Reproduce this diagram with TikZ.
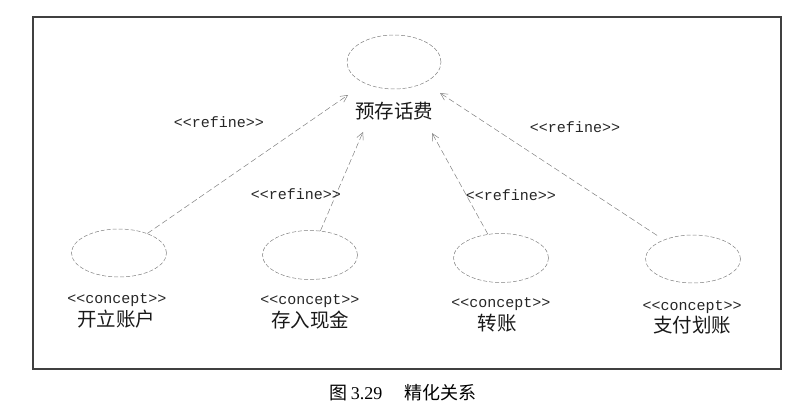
\documentclass[tikz,border=0pt]{standalone}
\usepackage{fontspec}
\setmonofont{Liberation Mono}
\setmainfont{Liberation Serif}
\newfontfamily\cjk{Noto Sans CJK SC}
\usetikzlibrary{shapes.geometric,arrows.meta}
\begin{document}
\begin{tikzpicture}[x=1pt,y=-1pt,
  usecase/.style={ellipse,draw=gray,dash pattern=on 4pt off 2pt,line width=0.5pt,inner sep=0pt,minimum width=95pt,minimum height=49pt},
  cname/.style={font=\cjk\fontsize{19.5}{20}\selectfont,inner sep=0pt,text=black!90},
  stereo/.style={font=\ttfamily\fontsize{15}{16}\selectfont,inner sep=0pt,text=black!85},
  refineline/.style={draw=gray,dash pattern=on 6pt off 3pt,line width=0.5pt,-{Straight Barb[length=7pt,width=7pt]}},
  frame/.style={draw=black!75,line width=1.2pt}]
\useasboundingbox (0,0) rectangle (792,417);
\node[frame,rectangle,minimum width=748pt,minimum height=352pt,inner sep=0pt] (frm) at (407,193) {};
% top use case
\node[usecase,minimum width=94pt,minimum height=54pt] (top) at (394,62) {};
\node[cname] (toplbl) at (394,111) {预存话费};
% bottom use cases
\node[usecase,minimum height=48pt] (e1) at (119,253) {};
\node[stereo] (s1) at (117,300) {<<concept>>};
\node[cname] (n1) at (116,319) {开立账户};
\node[usecase] (e2) at (310,255) {};
\node[stereo] (s2) at (310,301) {<<concept>>};
\node[cname] (n2) at (310,320) {存入现金};
\node[usecase] (e3) at (501,258) {};
\node[stereo] (s3) at (501,304) {<<concept>>};
\node[cname] (n3) at (497,323) {转账};
\node[usecase,minimum height=48pt] (e4) at (693,259) {};
\node[stereo] (s4) at (692,307) {<<concept>>};
\node[cname] (n4) at (692,325) {支付划账};
% arrow targets
\coordinate (p1) at (348,95);
\coordinate (p2) at (363,132);
\coordinate (p3) at (432,133);
\coordinate (p4) at (440,93);
\path[refineline] (e1) -- (p1);
\path[refineline] (e2) -- (p2);
\path[refineline] (e3) -- (p3);
\path[refineline,shorten <=8pt] (e4) -- (p4);
% labels
\node[stereo] (r1) at (219,122) {<<refine>>};
\node[stereo] (r2) at (296,194) {<<refine>>};
\node[stereo] (r3) at (511,195) {<<refine>>};
\node[stereo] (r4) at (575,127) {<<refine>>};
% caption
\node[font=\fontsize{18}{20}\selectfont,inner sep=0pt] (cap) at (403,393) {{\cjk 图}\,3.29\hspace{22pt}{\cjk 精化关系}};
\end{tikzpicture}
\end{document}
